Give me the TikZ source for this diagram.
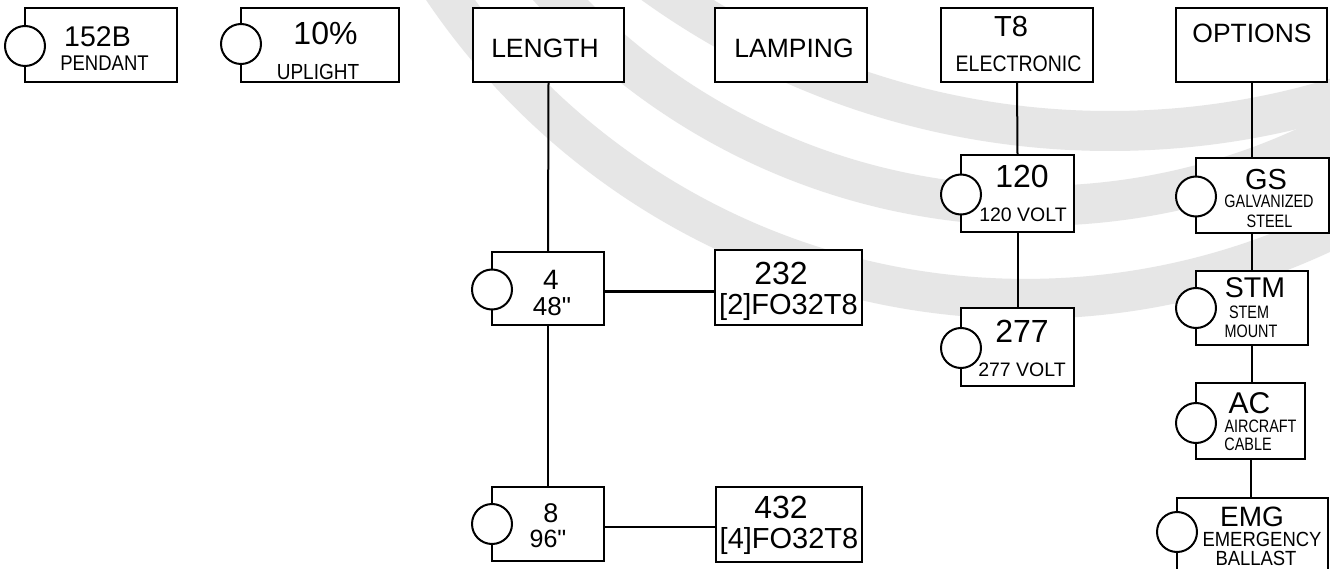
\documentclass[tikz,border=0pt]{standalone}
\usepackage{graphicx}
\usepackage{fontspec}
\setmainfont{Liberation Sans}
\newfontfamily\condA[FakeStretch=0.8]{Liberation Sans}
\newfontfamily\condB[FakeStretch=0.9]{Liberation Sans}
\newfontfamily\rawsans[Ligatures=TeXOff]{Liberation Sans}
\newcommand{\myfs}[1]{\fontsize{#1}{#1}\selectfont}
\newcommand{\tallt}[1]{\scalebox{1}[1.15]{#1}}
\definecolor{bandgray}{HTML}{E6E6E6}
\begin{document}
\begin{tikzpicture}[x=1pt,y=-1pt,
  box/.style={draw, line width=2.2pt, fill=white, rectangle, inner sep=0pt, outer sep=0pt, anchor=north west},
  knob/.style={draw, line width=2pt, fill=white, circle, inner sep=0pt, outer sep=0pt, minimum size=40pt},
  lbl/.style={inner sep=0pt, anchor=base},
  wire/.style={line width=2pt},
  band/.style={line width=40pt, draw=bandgray}]
\useasboundingbox (0,0) rectangle (1330,569);
\clip (0,0) rectangle (1330,569);
\fill[white] (0,0) rectangle (1330,569);
% background watermark arcs
\draw[band] (1110,-651) circle[radius=782pt];
\draw[band] (1034.7,-444.1) circle[radius=650pt];
\draw[band] (1025.7,-404.1) circle[radius=703pt];
% boxes
\node[box, minimum width=152pt, minimum height=74pt] (b152) at (25,8) {};
\node[box, minimum width=158pt, minimum height=74pt] (b10) at (241,8) {};
\node[box, minimum width=151pt, minimum height=74pt] (length) at (473,8) {};
\node[box, minimum width=152pt, minimum height=74pt] (lamping) at (715,8) {};
\node[box, minimum width=152pt, minimum height=74pt] (t8) at (941,8) {};
\node[box, minimum width=151pt, minimum height=74pt] (options) at (1176,8) {};
\node[box, minimum width=112pt, minimum height=73pt] (b4) at (492,252) {};
\node[box, minimum width=147pt, minimum height=75pt] (b232) at (715,250) {};
\node[box, minimum width=112pt, minimum height=74pt] (b8) at (492,487) {};
\node[box, minimum width=146pt, minimum height=75pt] (b432) at (716,487) {};
\node[box, minimum width=113pt, minimum height=77pt] (b120) at (961,155) {};
\node[box, minimum width=113pt, minimum height=78pt] (b277) at (961,308) {};
\node[box, minimum width=133pt, minimum height=75pt] (gs) at (1196,158) {};
\node[box, minimum width=112pt, minimum height=74pt] (stm) at (1196,271) {};
\node[box, minimum width=109pt, minimum height=76pt] (ac) at (1196,383) {};
\node[box, minimum width=151pt, minimum height=100pt] (emg) at (1177,498) {};
% connectors
\draw[wire] (length.south) -- (b4.north);
\draw[wire] (b4.south) -- (b8.north);
\draw[wire] ([yshift=-3pt]b4.east) -- ([yshift=-3pt]b4.east -| b232.west);
\draw[wire] ([yshift=-3pt]b8.east) -- ([yshift=-3pt]b8.east -| b432.west);
\draw[wire] (t8.south) -- (b120.north);
\draw[wire] (b120.south) -- (b277.north);
\draw[wire] (options.south) -- (options.south |- gs.north);
\draw[wire] (stm.north |- gs.south) -- (stm.north);
\draw[wire] (stm.south) -- (stm.south |- ac.north);
\draw[wire] (ac.south) -- (ac.south |- emg.north);
% selector circles
\node[knob] (k152) at ([yshift=-1pt]b152.west) {};
\node[knob] (k10) at ([yshift=1pt]b10.west) {};
\node[knob] (k4) at ([yshift=-1pt]b4.west) {};
\node[knob] (k8) at (b8.west) {};
\node[knob] (k120) at ([yshift=-1pt]b120.west) {};
\node[knob] (k277) at ([yshift=-1pt]b277.west) {};
\node[knob] (kgs) at ([yshift=-1pt]gs.west) {};
\node[knob] (kstm) at (stm.west) {};
\node[knob] (kac) at ([yshift=-2pt]ac.west) {};
\node[knob] (kemg) at ([yshift=-34pt]emg.north west) {};
% labels
\node[lbl] (t152) at (97.5,47) {\myfs{28.5}152B};
\node[lbl] (tpend) at (104.5,71) {\tallt{\myfs{18.5}PENDANT}};
\node[lbl] (t10) at (325.5,45) {\myfs{32}10\%};
\node[lbl] (tup) at (318,80) {\tallt{\myfs{19}UPLIGHT}};
\node[lbl] (tlen) at (545,58) {\myfs{26.5}LENGTH};
\node[lbl] (tlamp) at (794,58) {\myfs{26.5}LAMPING};
\node[lbl] (tt8) at (1011,37) {\myfs{29}T8};
\node[lbl] (telec) at (1018.5,72) {\tallt{\myfs{19.5}ELECTRONIC}};
\node[lbl] (topt) at (1252,43) {\myfs{26.5}OPTIONS};
\node[lbl] (t120) at (1022,188) {\myfs{32}120};
\node[lbl] (t120v) at (1023,222) {\myfs{19.5}120 VOLT};
\node[lbl] (t277) at (1022,342) {\myfs{32}277};
\node[lbl] (t277v) at (1022,376) {\myfs{19.5}277 VOLT};
\node[lbl] (tgs) at (1266,190) {\myfs{29}GS};
\node[lbl] (tgalv) at (1269,208) {\condA\myfs{18}GALVANIZED};
\node[lbl] (tsteel) at (1269.5,228) {\condA\myfs{18}STEEL};
\node[lbl] (tstm) at (1255,298) {\myfs{28.5}STM};
\node[lbl] (tstem) at (1249,318) {\condA\myfs{18}STEM};
\node[lbl] (tmount) at (1251,337) {\condA\myfs{18}MOUNT};
\node[lbl] (tac) at (1249.5,413) {\myfs{30}AC};
\node[lbl] (tair) at (1260.5,432) {\condA\myfs{18}AIRCRAFT};
\node[lbl] (tcable) at (1248,450) {\condA\myfs{18}CABLE};
\node[lbl] (temg) at (1252,526) {\myfs{28}EMG};
\node[lbl] (temer) at (1262,546) {\condB\myfs{20.5}EMERGENCY};
\node[lbl] (tball) at (1256,565) {\condB\myfs{20.5}BALLAST};
\node[lbl] (t4) at (551,290) {\myfs{28}4};
\node[lbl] (t48) at (552,315) {\rawsans\myfs{26}48"};
\node[lbl] (t232) at (781,285) {\myfs{32}232};
\node[lbl] (t232l) at (788.5,314) {\myfs{29}[2]FO32T8};
\node[lbl] (t8n) at (551,522) {\myfs{27}8};
\node[lbl] (t96) at (548,547) {\rawsans\myfs{25}96"};
\node[lbl] (t432) at (781,518) {\myfs{32}432};
\node[lbl] (t432l) at (789,548) {\myfs{29}[4]FO32T8};
\end{tikzpicture}
\end{document}
